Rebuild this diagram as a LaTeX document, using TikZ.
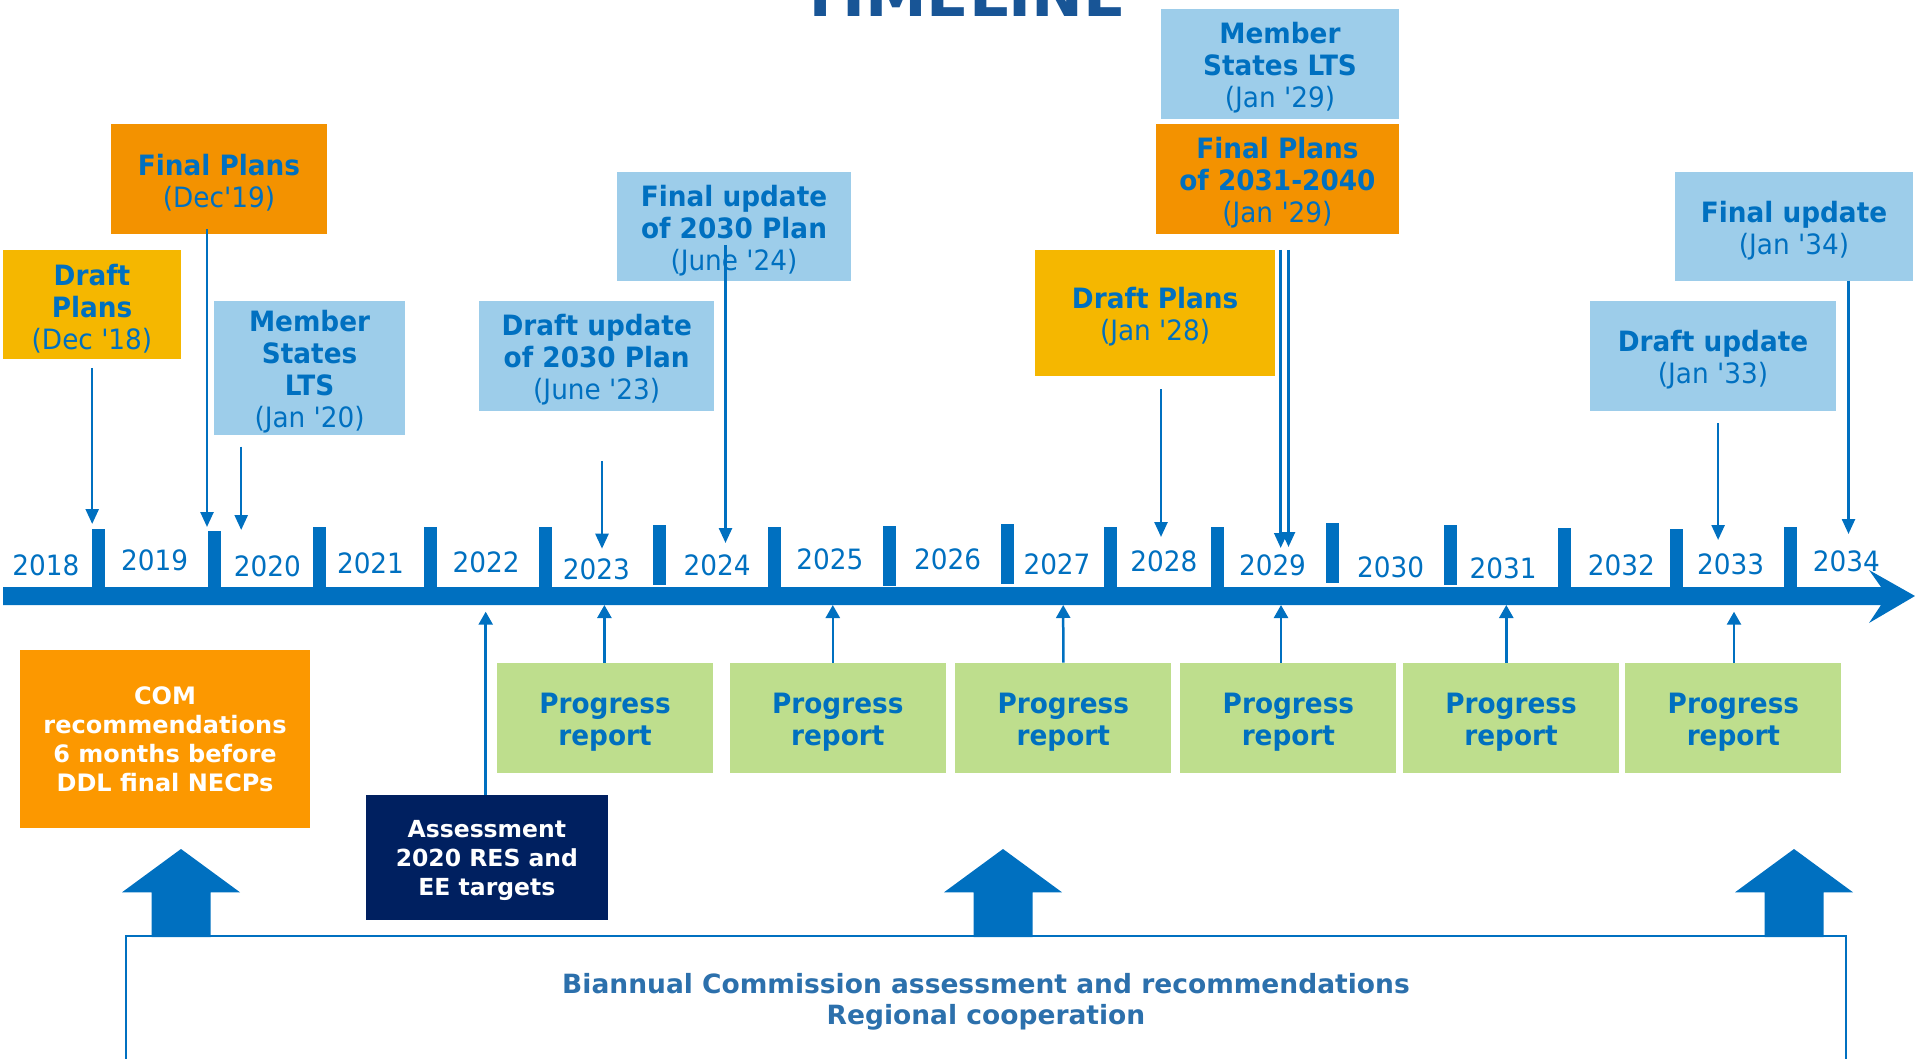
\documentclass[tikz,border=0pt]{standalone}
\usepackage{fontspec}
\newfontfamily\vf{DejaVu Sans}[FakeStretch=0.94]
\newfontfamily\vfw{DejaVu Sans}[FakeStretch=1.0]
\usetikzlibrary{arrows.meta,calc}
\definecolor{tblue}{RGB}{0,112,192}
\definecolor{yel}{RGB}{245,183,0}
\definecolor{ora}{RGB}{243,146,0}
\definecolor{ora2}{RGB}{252,152,0}
\definecolor{lblue}{RGB}{157,205,234}
\definecolor{lgreen}{RGB}{190,222,141}
\definecolor{navy}{RGB}{0,32,96}
\definecolor{steel}{RGB}{44,112,172}
\definecolor{titleblue}{RGB}{24,85,150}
% box with its text set a little below the centre, as in the reference
\newcommand{\tlbox}[6]{%
  \node[boxbg, fill=#1, minimum width=#2, minimum height=#3] (#4) at #5 {};
  \node[box] (#4-t) at ($(#4)+(0,4.3)$) {#6};}
\newcommand{\progbox}[2]{%
  \node[boxbg, fill=lgreen, minimum width=216, minimum height=110] (#1) at #2 {};
  \node[box] (#1-t) at ($(#1)+(0,5)$) {\textbf{Progress}\\\textbf{report}};}
\begin{document}
\begin{tikzpicture}[x=1pt,y=-1pt,
  boxbg/.style={inner sep=0pt, draw=none},
  box/.style={inner sep=0pt, align=center, text=tblue, font=\vf\fontsize{28}{32}\selectfont},
  wbox/.style={inner sep=0pt, align=center, text=white},
  arr/.style={draw=tblue, line width=2.5pt, -{Triangle[length=15pt,width=13pt]}},
  uarr/.style={draw=tblue, line width=2.5pt, -{Triangle[length=13pt,width=14pt]}},
  yr/.style={anchor=base, inner sep=0pt, text=tblue, font=\vf\fontsize{28}{32}\selectfont},
  tickmark/.style={fill=tblue, draw=none},
  bigarrow/.style={fill=tblue, draw=none}]
\useasboundingbox (0,0) rectangle (1915,1059);
\clip (0,0) rectangle (1915,1059);

% title (cut off at top, as in the reference)
\node[anchor=base, inner sep=0pt, text=titleblue, font=\vfw\bfseries\fontsize{62}{62}\selectfont] (title) at (963,17) {TIMELINE};

% timeline bar with arrow head
\fill[tblue] (3,587) -- (1881,587) -- (1869,570) -- (1915,596) -- (1869,623) -- (1881,605) -- (3,605) -- cycle;

% tick marks
\foreach \x/\t/\b in {98/529/587, 214.3/531/587, 319/527/587, 430.5/527/587, 545.6/527/587, 659.5/525/585, 774.6/527/587, 889.2/526/586, 1007.2/524/584, 1110.6/527/587, 1217.7/527/587, 1332.2/523/583, 1450.3/525/585, 1564.2/528/587, 1676.8/529/587, 1790.6/527/587}
  \fill[tickmark] (\x-6.5,\t) rectangle (\x+6.5,\b);

% year labels
\node[yr] (y18) at (45.9,575) {2018};
\node[yr] (y19) at (154.6,570) {2019};
\node[yr] (y20) at (267.3,576) {2020};
\node[yr] (y21) at (370.5,573.3) {2021};
\node[yr] (y22) at (486.2,572.7) {2022};
\node[yr] (y23) at (596.4,579.3) {2023};
\node[yr] (y24) at (717.1,575) {2024};
\node[yr] (y25) at (829.8,569.3) {2025};
\node[yr] (y26) at (947.7,569.3) {2026};
\node[yr] (y27) at (1057,574) {2027};
\node[yr] (y28) at (1163.8,571.7) {2028};
\node[yr] (y29) at (1272.5,575) {2029};
\node[yr] (y30) at (1390.6,577.3) {2030};
\node[yr] (y31) at (1503.2,578.3) {2031};
\node[yr] (y32) at (1621.4,575) {2032};
\node[yr] (y33) at (1730.6,574) {2033};
\node[yr] (y34) at (1846.3,571.7) {2034};

% upper boxes
\tlbox{yel}{178}{109}{dp18}{(92,304.3)}{\textbf{Draft}\\\textbf{Plans}\\(Dec '18)}
\tlbox{ora}{216}{110}{fp19}{(219,178.8)}{\textbf{Final Plans}\\(Dec'19)}
\tlbox{lblue}{191.6}{133.7}{ms20}{(309.6,367.8)}{\textbf{Member}\\\textbf{States}\\\textbf{LTS}\\(Jan '20)}
\tlbox{lblue}{235.5}{109.7}{du23}{(596.7,355.8)}{\textbf{Draft update}\\\textbf{of 2030 Plan}\\(June '23)}
\tlbox{lblue}{234}{108.7}{fu24}{(734,226.3)}{\textbf{Final update}\\\textbf{of 2030 Plan}\\(June '24)}
\tlbox{lblue}{238}{109.7}{ms29}{(1280,63.8)}{\textbf{Member}\\\textbf{States LTS}\\(Jan '29)}
\tlbox{ora}{243.2}{109.7}{fp29}{(1277.4,178.8)}{\textbf{Final Plans}\\\textbf{of 2031-2040}\\(Jan '29)}
\tlbox{yel}{240.6}{125.7}{dp28}{(1155.1,312.8)}{\textbf{Draft Plans}\\(Jan '28)}
\tlbox{lblue}{238}{108.7}{fu34}{(1794,226.3)}{\textbf{Final update}\\(Jan '34)}
\tlbox{lblue}{246}{109.7}{du33}{(1713,355.8)}{\textbf{Draft update}\\(Jan '33)}

% downward arrows
\coordinate (s18) at (92.2,368);    \coordinate (t18) at (92.2,524);
\coordinate (s19) at (207,229);     \coordinate (t19) at (207,527);
\coordinate (s20) at (241.2,446.7); \coordinate (t20) at (241.2,530);
\coordinate (s23) at (602,461);     \coordinate (t23) at (602,548.7);
\coordinate (s24) at (725.5,245);   \coordinate (t24) at (725.5,543);
\coordinate (s28) at (1161,389);    \coordinate (t28) at (1161,537);
\coordinate (s29a) at (1280.7,250); \coordinate (t29a) at (1280.7,548);
\coordinate (s29b) at (1288.5,250); \coordinate (t29b) at (1288.5,547);
\coordinate (s33) at (1718.1,423);  \coordinate (t33) at (1718.1,540);
\coordinate (s34) at (1848.5,280.7);\coordinate (t34) at (1848.5,534);
\foreach \n in {18,19,20,23,24,28,29a,29b,33,34}
  \draw[arr] (s\n) -- (t\n);

% lower boxes
\node[wbox, fill=ora2, minimum width=289.7, minimum height=177.7, font=\vfw\bfseries\fontsize{24}{29}\selectfont] (com) at (165,738.8) {COM\\recommendations\\6 months before\\DDL final NECPs};
\node[boxbg, fill=navy, minimum width=241.3, minimum height=124.7] (ass) at (486.9,857.3) {};
\node[wbox, font=\vfw\bfseries\fontsize{23.5}{29}\selectfont] (ass-t) at ($(ass)+(0,3)$) {Assessment\\2020 RES and\\EE targets};
\progbox{p1}{(605,717.7)}
\progbox{p2}{(837.8,717.7)}
\progbox{p3}{(1063.3,717.7)}
\progbox{p4}{(1288.4,717.7)}
\progbox{p5}{(1511,717.7)}
\progbox{p6}{(1733.4,717.7)}

% upward arrows to the bar
\coordinate (u0) at (485.7,611.7);
\coordinate (u1) at (604.4,605);
\coordinate (u2) at (832.8,605);
\coordinate (u3) at (1063.2,605);
\coordinate (u4) at (1281,605);
\coordinate (u5) at (1506.3,605);
\coordinate (u6) at (1734,611.7);
\draw[uarr] ($(ass.north)+(-1.2,0)$) -- (u0);
\draw[uarr] ($(p1.north)+(-0.6,0)$) -- (u1);
\draw[uarr] ($(p2.north)+(-5,0)$) -- (u2);
\draw[uarr] (p3.north) -- (u3);
\draw[uarr] ($(p4.north)+(-7.4,0)$) -- (u4);
\draw[uarr] ($(p5.north)+(-4.7,0)$) -- (u5);
\draw[uarr] ($(p6.north)+(0.6,0)$) -- (u6);

% big block arrows
\foreach \c in {181,1003,1794}
  \fill[bigarrow] (\c,849) -- (\c+59,892.3) -- (\c+29.5,892.3) -- (\c+29.5,937) -- (\c-29.5,937) -- (\c-29.5,892.3) -- (\c-59,892.3) -- cycle;

% bottom frame and text
\node[draw=tblue, line width=2pt, fill=none, minimum width=1720, minimum height=180, inner sep=0pt] (frame) at (986,1026) {};
\node[inner sep=0pt, align=center, text=steel, font=\vfw\bfseries\fontsize{26.5}{30.5}\selectfont] (btext) at (986,1002) {Biannual Commission assessment and recommendations\\Regional cooperation};
\end{tikzpicture}
\end{document}
